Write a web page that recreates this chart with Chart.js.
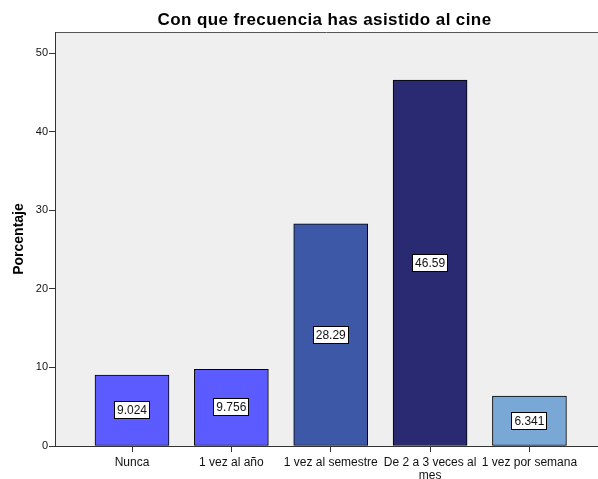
<!DOCTYPE html>
<html>
<head>
<meta charset="utf-8">
<script src="https://cdn.jsdelivr.net/npm/chart.js@4.4.1/dist/chart.umd.min.js"></script>
<style>
  html, body { margin: 0; padding: 0; background: #fff; }
  #wrap { width: 598px; height: 479px; }
</style>
</head>
<body>
<div id="wrap"><canvas id="barChart" width="598" height="479"></canvas></div>
<script>
// frecuencia de asistencia al cine (porcentaje)
var categorias = ['Nunca', '1 vez al año', '1 vez al semestre', ['De 2 a 3 veces al', 'mes'], '1 vez por semana'];
var porcentajes = [9.024, 9.756, 28.29, 46.59, 6.341];
var etiquetas = ['9.024', '9.756', '28.29', '46.59', '6.341'];
var colores = ['#5b5bff', '#5b5bff', '#3e58a8', '#292a72', '#7aa8d6'];
var ticksY = [0, 10, 20, 30, 40, 50];

var fuente = '"Liberation Sans", Arial, sans-serif';
Chart.defaults.font.family = fuente;

var puntos = [];
for (var i = 0; i < porcentajes.length; i++) {
    puntos.push({ x: i, y: porcentajes[i] });
}

// fondo gris del area y titulo
var fondo = {
    id: 'fondo',
    beforeDraw: function (chart) {
        var ctx = chart.ctx, a = chart.chartArea;
        ctx.save();
        ctx.fillStyle = '#efefef';
        ctx.fillRect(a.left, a.top, a.right - a.left, a.bottom - a.top);
        ctx.strokeStyle = '#555';
        ctx.lineWidth = 1;
        ctx.beginPath();
        ctx.moveTo(a.left, a.top + 0.5);
        ctx.lineTo(a.right, a.top + 0.5);
        ctx.stroke();
        ctx.fillStyle = '#000';
        ctx.font = 'bold 17px ' + fuente;
        ctx.letterSpacing = '0.4px';
        ctx.textAlign = 'center';
        ctx.textBaseline = 'middle';
        ctx.fillText('Con que frecuencia has asistido al cine', (a.left + a.right) / 2 - 2, 20);
        ctx.restore();
    }
};

// cajas blancas con el valor en medio de cada barra
var valores = {
    id: 'valores',
    afterDatasetsDraw: function (chart) {
        var ctx = chart.ctx;
        var meta = chart.getDatasetMeta(0);
        ctx.save();
        ctx.font = '12px ' + fuente;
        ctx.textAlign = 'center';
        ctx.textBaseline = 'middle';
        meta.data.forEach(function (bar, j) {
            var txt = etiquetas[j];
            var cy = Math.round((bar.y + bar.base) / 2);
            var w = Math.ceil(ctx.measureText(txt).width) + 5;
            var h = 18;
            var x0 = Math.round(bar.x - w / 2);
            ctx.fillStyle = '#fff';
            ctx.fillRect(x0, cy - h / 2, w, h);
            ctx.strokeStyle = '#000';
            ctx.lineWidth = 1;
            ctx.strokeRect(x0 + 0.5, cy - h / 2 + 0.5, w - 1, h - 1);
            ctx.fillStyle = '#111';
            ctx.fillText(txt, bar.x, cy + 1);
        });
        ctx.restore();
    }
};

var chart = new Chart(document.querySelector('#barChart'), {
    type: 'bar',
    data: {
        datasets: [{
            data: puntos,
            backgroundColor: colores,
            borderColor: '#000',
            borderWidth: 1,
            borderSkipped: false,
            barThickness: 74
        }]
    },
    options: {
        responsive: false,
        animation: false,
        layout: { padding: { top: 32, right: 0, left: 0, bottom: 0 } },
        plugins: {
            legend: { display: false },
            tooltip: { enabled: false },
            title: { display: false }
        },
        scales: {
            x: {
                type: 'linear',
                min: -0.775,
                max: 4.69,
                offset: false,
                afterBuildTicks: function (scale) {
                    scale.ticks = categorias.map(function (c, k) { return { value: k }; });
                },
                afterFit: function (scale) { scale.height = 33; },
                grid: { drawOnChartArea: false, offset: false, tickLength: 6, color: '#333' },
                border: { color: '#333', width: 1 },
                ticks: {
                    autoSkip: false,
                    maxRotation: 0,
                    padding: 4,
                    color: '#111',
                    font: { size: 12, lineHeight: 1.1 },
                    callback: function (v) { return categorias[v]; }
                }
            },
            y: {
                min: 0,
                max: 52.7,
                afterBuildTicks: function (scale) {
                    scale.ticks = ticksY.map(function (t) { return { value: t }; });
                },
                afterFit: function (scale) { scale.width = 55; },
                grid: { drawOnChartArea: false, tickLength: 6, color: '#333' },
                border: { color: '#333', width: 1 },
                ticks: { padding: 1, color: '#111', font: { size: 11 } },
                title: {
                    display: true,
                    text: 'Porcentaje',
                    color: '#000',
                    font: { size: 14, weight: 'bold' },
                    padding: { top: 11, bottom: 0 }
                }
            }
        }
    },
    plugins: [fondo, valores]
});
</script>
</body>
</html>
